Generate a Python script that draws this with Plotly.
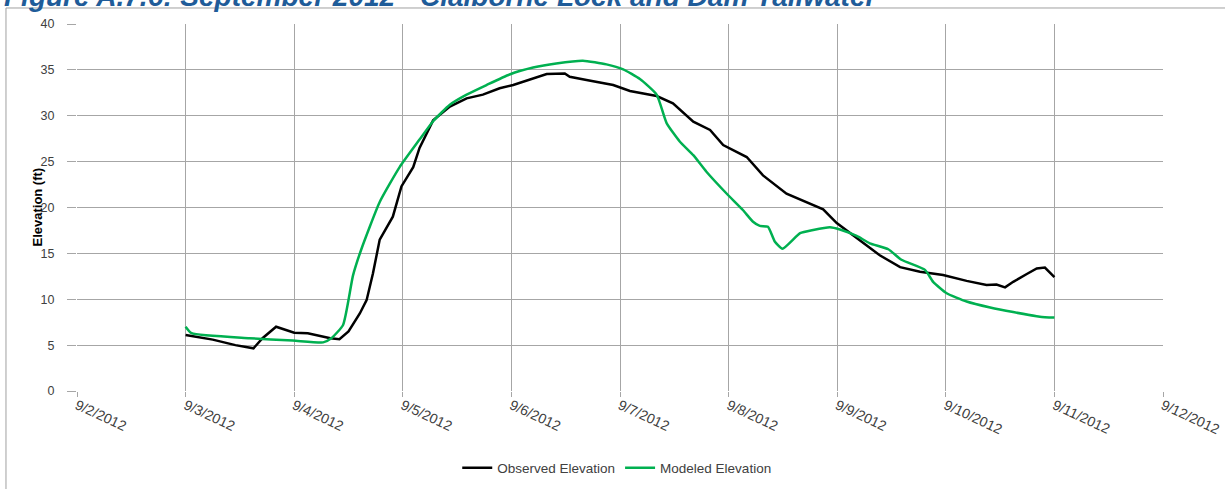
import pandas as pd
import plotly.graph_objects as go

# hours after 9/3/2012 00:00, elevation in ft
obs_hours = [0, 6, 11, 15, 17, 20, 24, 27, 32, 34, 36, 38.5, 40, 41.4, 42.9,
             45.8, 47.7, 50.3, 51.7, 54.7, 58.4, 62.1, 65.7, 69.4, 72.4, 76.8,
             79.8, 83.8, 84.9, 88.6, 91.5, 94.5, 98.2, 104.1, 107.7, 112.2,
             115.9, 118.8, 124, 127.6, 132.8, 137.2, 140.9, 143.9, 149, 153.4,
             157.9, 162.3, 167.4, 172.6, 177, 179.2, 181.1, 182.9, 185.9,
             188.1, 189.9, 192]
obs_elev = [6.1, 5.6, 5.0, 4.65, 5.75, 7.0, 6.35, 6.3, 5.75, 5.65, 6.5, 8.45,
            9.9, 12.8, 16.5, 19.0, 22.3, 24.4, 26.5, 29.5, 31.0, 31.9, 32.3,
            33.0, 33.35, 34.1, 34.55, 34.6, 34.25, 33.9, 33.6, 33.35, 32.7,
            32.15, 31.35, 29.35, 28.45, 26.8, 25.5, 23.5, 21.5, 20.6, 19.8,
            18.3, 16.45, 14.8, 13.5, 13.0, 12.65, 12.0, 11.55, 11.6, 11.3,
            11.9, 12.75, 13.35, 13.45, 12.4]

mod_hours = [0, 1.3, 14.1, 23.7, 30.4, 32.2, 34.8, 37, 38.8, 42.9, 47.3, 51.7,
             54.7, 58.4, 62.1, 66.5, 71.6, 76.8, 81.9, 87.8, 93, 96.7, 100.4,
             104.1, 106.3, 109.2, 112.2, 115.1, 119.6, 123.2, 125.4, 126.9,
             128.7, 130.2, 131.9, 135.8, 138.7, 142.4, 144.6, 148.3, 151.2,
             155.3, 158.2, 163.4, 165.2, 168.2, 172.6, 177.8, 182.9, 188.8, 192]
mod_elev = [7.0, 6.3, 5.75, 5.5, 5.3, 5.75, 7.2, 12.6, 15.4, 20.6, 24.4, 27.4,
            29.4, 31.2, 32.3, 33.35, 34.5, 35.25, 35.7, 36.0, 35.6, 35.05, 34.0,
            32.3, 29.2, 27.2, 25.7, 23.9, 21.5, 19.7, 18.45, 18.0, 17.9, 16.3,
            15.5, 17.2, 17.55, 17.85, 17.6, 16.9, 16.1, 15.45, 14.3, 13.2, 11.9,
            10.65, 9.75, 9.1, 8.6, 8.1, 8.0]

start = pd.Timestamp("2012-09-03")
obs_t = start + pd.to_timedelta(obs_hours, unit="h")
mod_t = start + pd.to_timedelta(mod_hours, unit="h")

FONT = "Liberation Sans"
GRID = "#A6A6A6"
INK = "#404040"

fig = go.Figure()
fig.add_trace(go.Scatter(x=obs_t, y=obs_elev, mode="lines",
                         name="Observed Elevation",
                         line=dict(color="#000000", width=2.5)))
fig.add_trace(go.Scatter(x=mod_t, y=mod_elev, mode="lines",
                         name="Modeled Elevation",
                         line=dict(color="#00B050", width=2.5,
                                   shape="spline", smoothing=0.5)))

fig.update_layout(
    width=1225, height=489,
    margin=dict(l=77, r=62, t=24, b=98, autoexpand=False),
    paper_bgcolor="white", plot_bgcolor="white",
    font=dict(family=FONT, size=12, color=INK),
    showlegend=True,
    legend=dict(orientation="h", x=0.497, xanchor="center", y=-0.21,
                yanchor="middle", font=dict(size=13.5, color=INK),
                itemwidth=30),
    xaxis=dict(
        type="date", range=["2012-09-02", "2012-09-12"],
        tick0="2012-09-02", dtick=86400000, tickformat="%-m/%-d/%Y",
        tickangle=25, tickfont=dict(size=14, color=INK),
        showgrid=True, gridcolor=GRID, gridwidth=1,
        ticks="outside", ticklen=5, tickcolor=GRID, zeroline=False,
        showline=False, automargin=False, ticklabelstandoff=-5,
    ),
    yaxis=dict(
        range=[0, 40], dtick=5, tickfont=dict(size=12.5, color=INK),
        showgrid=True, gridcolor=GRID, gridwidth=1,
        ticks="outside", ticklen=9, tickcolor=GRID, zeroline=False,
        showline=False, automargin=False, ticklabelstandoff=10,
    ),
)

# y-axis title
fig.add_annotation(text="<b>Elevation (ft)</b>", xref="paper", yref="paper",
                   x=-0.0368, xanchor="center", y=0.5, yanchor="middle",
                   textangle=-90, showarrow=False,
                   font=dict(family=FONT, size=13, color="#000000"))

# outer chart-area border
fig.add_shape(type="rect", xref="paper", yref="paper",
              x0=-0.0654, x1=1.2, y0=-0.4, y1=1.0436,
              line=dict(color="#A0A0A0", width=1), layer="below")

# caption above the chart, cut off at the top of the page
fig.add_annotation(
    text="<b><i>Figure A.7.6: September 2012 - Claiborne Lock and Dam Tailwater</i></b>",
    xref="paper", yref="paper", x=-0.069, xanchor="left",
    y=1.074, yanchor="middle", showarrow=False,
    font=dict(family=FONT, size=28, color="#1F5C99"),
)

# drop the browser's default body margin so the figure sits at the page corner
fig.write_html("out.html", config={"displayModeBar": False},
               post_script="document.body.style.margin='0';")
